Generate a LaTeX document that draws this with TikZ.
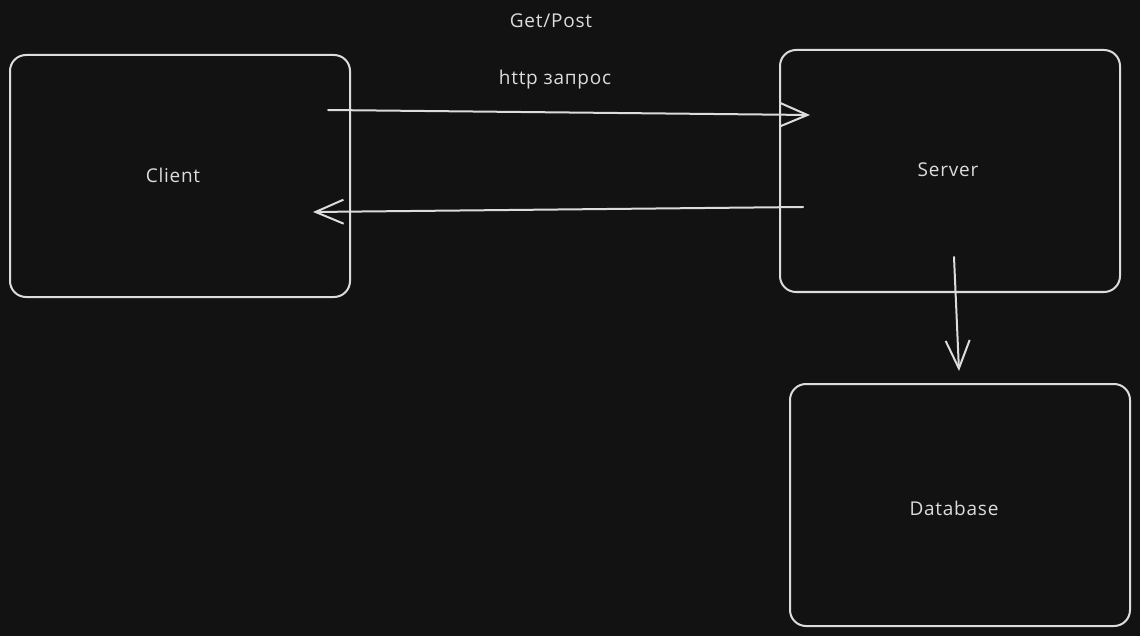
\documentclass[tikz,border=0pt]{standalone}
\usepackage{fontspec}
\setmainfont{Open Sans}[LetterSpace=4]
\usetikzlibrary{arrows.meta}
\definecolor{bg}{HTML}{121212}
\definecolor{fg}{HTML}{DCDCDC}
\tikzset{
  box/.style={draw=fg, line width=2pt, rounded corners=16pt, minimum width=340pt, minimum height=242pt, inner sep=0pt},
  lbl/.style={text=fg, inner sep=0pt, font=\fontsize{19}{21}\selectfont},
  conn/.style={draw=fg, line width=2pt, line cap=round, -{Straight Barb[length=28pt, width=24pt, line width=2pt]}}
}
\begin{document}
\begin{tikzpicture}[x=1pt, y=-1pt]
\path[fill=bg, use as bounding box] (0,0) rectangle (1140,636);
\node[box] (client) at (180,176) {};
\node[box] (server) at (950,171) {};
\node[box] (db) at (960,505) {};
\node[lbl] (clientlbl) at (173,175) {Client};
\node[lbl] (serverlbl) at (948,170) {Server};
\node[lbl] (dblbl) at (954,508) {Database};
\node[lbl] (get) at (551,21) {Get/Post};
\node[lbl] (http) at (555,80) {http запрос};
\coordinate (c1) at (328,110);
\coordinate (s1) at (810,115);
\coordinate (s2) at (803,207);
\coordinate (c2) at (313,212);
\coordinate (s3) at (954,257);
\coordinate (d1) at (959,371);
\draw[conn] (c1) -- (s1);
\draw[conn] (s2) -- (c2);
\draw[conn] (s3) -- (d1);
\end{tikzpicture}
\end{document}
